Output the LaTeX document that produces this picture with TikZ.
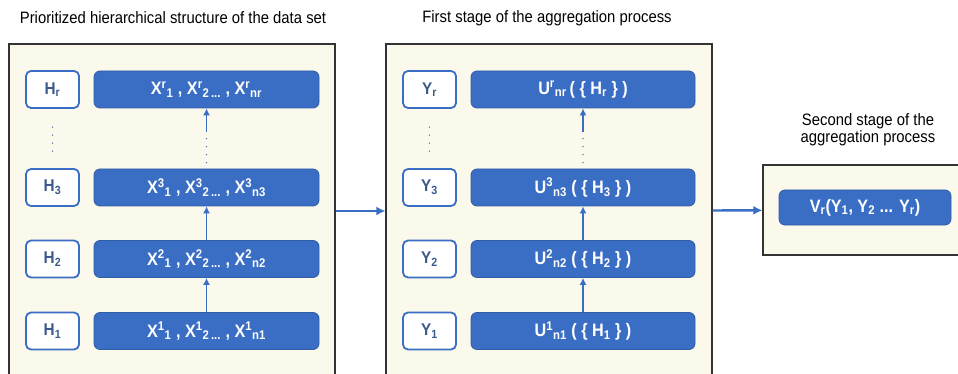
\documentclass[tikz,border=0pt]{standalone}
\usepackage{fontspec}
\setmainfont{Liberation Sans}[FakeStretch=0.9]
\usetikzlibrary{arrows.meta}

\definecolor{boxblue}{RGB}{58,110,196}
\definecolor{keytext}{RGB}{60,90,140}
\definecolor{panelbg}{RGB}{251,248,236}
\newcommand{\supsub}[3]{#1\textsuperscript{#2}\textsubscript{#3}}

\begin{document}
\begin{tikzpicture}[x=1pt, y=-1pt, >={Latex[length=7pt,width=7pt]},
  panel/.style={draw=black!80, line width=1.2pt, fill=panelbg, inner sep=0pt},
  key/.style={draw=boxblue, line width=1.8pt, fill=white, rounded corners=5pt, text=keytext,
    minimum width=53pt, minimum height=37pt, inner sep=0pt, font=\bfseries\fontsize{17}{19}\selectfont},
  set/.style={draw=boxblue!85!black, line width=0.8pt, fill=boxblue, rounded corners=6pt, text=white,
    minimum height=37pt, inner sep=0pt, font=\bfseries\fontsize{18}{20}\selectfont},
  title/.style={font=\fontsize{16.5}{17}\selectfont, align=center},
  up/.style={->, boxblue, line width=1.3pt},
  link/.style={-{Latex[length=9pt,width=9pt]}, boxblue, line width=2.4pt},
  dots/.style={boxblue!70!gray, line width=1.6pt, dash pattern=on 0pt off 8pt, line cap=round}]

\useasboundingbox (0,0) rectangle (958,374);

% panels
\node[panel, minimum width=326pt, minimum height=334pt] (p1) at (172,211) {};
\node[panel, minimum width=326pt, minimum height=334pt] (p2) at (549,211) {};
\node[panel, minimum width=200pt, minimum height=90pt] (p3) at (863,210) {};

\node[title] (t1) at (173,18) {Prioritized hierarchical structure of the data set};
\node[title] (t2) at (547,18) {First stage of the aggregation process};
\node[title] (t3) at (868,130) {Second stage of the\\aggregation process};

% left panel
\node[key] (hr) at (52.5,89.5) {H\textsubscript{r}};
\node[key] (h3) at (52.5,187.5) {H\textsubscript{3}};
\node[key] (h2) at (52.5,259) {H\textsubscript{2}};
\node[key] (h1) at (52.5,331) {H\textsubscript{1}};

\node[set, minimum width=225pt] (xr) at (206.5,89.5)
  {\supsub{X}{r}{1} , \supsub{X}{r}{2\,...} , \supsub{X}{r}{nr}};
\node[set, minimum width=225pt] (x3) at (206.5,187.5)
  {\supsub{X}{3}{1} , \supsub{X}{3}{2\,...} , \supsub{X}{3}{n3}};
\node[set, minimum width=225pt] (x2) at (206.5,259)
  {\supsub{X}{2}{1} , \supsub{X}{2}{2\,...} , \supsub{X}{2}{n2}};
\node[set, minimum width=225pt] (x1) at (206.5,331)
  {\supsub{X}{1}{1} , \supsub{X}{1}{2\,...} , \supsub{X}{1}{n1}};

\draw[up] (x1) -- (x2);
\draw[up] (x2) -- (x3);
\path (x3.north) -- (xr.south) coordinate[pos=0.6] (xm);
\draw[dots, shorten <=6pt] (x3.north) -- (xm);
\draw[up] (xm) -- (xr);
\draw[dots, shorten <=17pt, shorten >=17pt] (h3.north) -- (hr.south);

% middle panel
\node[key] (yr) at (429.5,89.5) {Y\textsubscript{r}};
\node[key] (y3) at (429.5,187.5) {Y\textsubscript{3}};
\node[key] (y2) at (429.5,259) {Y\textsubscript{2}};
\node[key] (y1) at (429.5,331) {Y\textsubscript{1}};

\node[set, minimum width=224pt] (ur) at (583,89.5) {\supsub{U}{r}{nr}\,( \{ H\textsubscript{r} \} )};
\node[set, minimum width=224pt] (u3) at (583,187.5) {\supsub{U}{3}{n3} ( \{ H\textsubscript{3} \} )};
\node[set, minimum width=224pt] (u2) at (583,259) {\supsub{U}{2}{n2} ( \{ H\textsubscript{2} \} )};
\node[set, minimum width=224pt] (u1) at (583,331) {\supsub{U}{1}{n1} ( \{ H\textsubscript{1} \} )};

\draw[up] (u1) -- (u2);
\draw[up] (u2) -- (u3);
\path (u3.north) -- (ur.south) coordinate[pos=0.6] (um);
\draw[dots, shorten <=6pt] (u3.north) -- (um);
\draw[up] (um) -- (ur);
\draw[dots, shorten <=17pt, shorten >=17pt] (y3.north) -- (yr.south);

% right panel
\node[set, minimum width=172pt, minimum height=35pt] (vr) at (865,207.5)
  {V\textsubscript{r}(Y\textsubscript{1}, Y\textsubscript{2} ... Y\textsubscript{r})};

\draw[link] (p1) -- (p2);
\draw[link] (p2) -- (p3);

\end{tikzpicture}
\end{document}
